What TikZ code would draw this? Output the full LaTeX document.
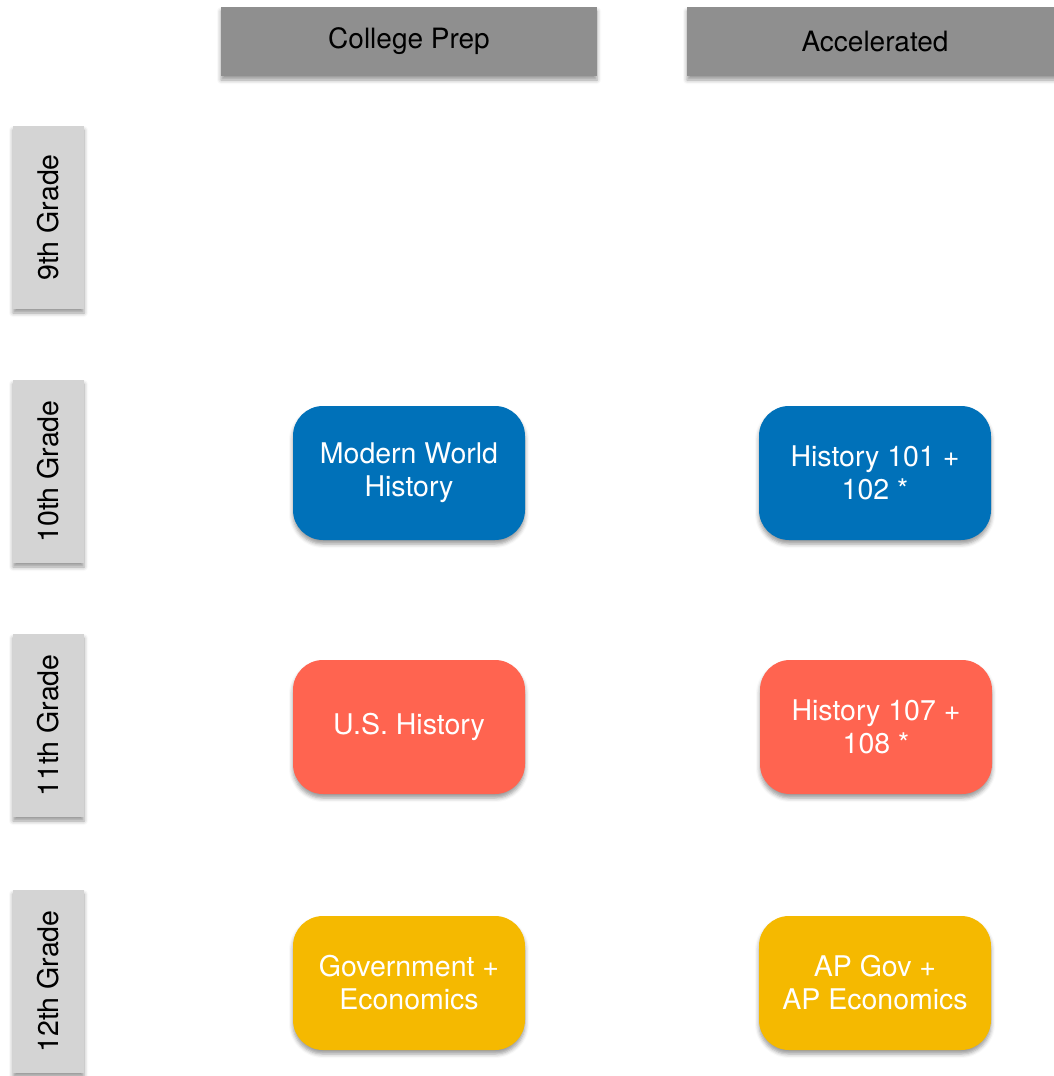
\documentclass[tikz,border=0pt]{standalone}
\usepackage{fontspec}
\setmainfont{TeX Gyre Heros}
\usetikzlibrary{shadows.blur}
\definecolor{hdrgray}{RGB}{143,143,143}
\definecolor{lblgray}{RGB}{212,212,212}
\definecolor{cblue}{RGB}{0,113,185}
\definecolor{cred}{RGB}{255,100,80}
\definecolor{cyellow}{RGB}{245,185,0}
\tikzset{
  shade/.style={blur shadow={shadow xshift=0pt, shadow yshift=-4pt, shadow blur radius=4pt, shadow opacity=40}},
  header/.style={shade, fill=hdrgray, minimum width=376pt, minimum height=69pt, inner sep=0pt, font=\fontsize{28}{33}\selectfont, text=black},
  grade/.style={shade, fill=lblgray, minimum width=183pt, minimum height=71pt, inner sep=0pt, rotate=90, font=\fontsize{28.5}{33}\selectfont, text=black},
  course/.style={shade, rounded corners=30pt, minimum width=232pt, minimum height=134pt, inner sep=0pt, align=center, text=white, font=\fontsize{28.5}{33}\selectfont},
}
\begin{document}
\begin{tikzpicture}[x=1pt,y=-1pt]
\useasboundingbox (0,0) rectangle (1054,1076);
\clip (0,0) rectangle (1054,1076);
\node[header] (cp) at (409,41.5) {College Prep};
\node[header] (acc) at (875,41.5) {Accelerated};
\node[grade] (g9) at (48.5,217.5) {9th Grade};
\node[grade] (g10) at (48.5,471.5) {10th Grade};
\node[grade] (g11) at (48.5,725.5) {11th Grade};
\node[grade] (g12) at (48.5,981.5) {12th Grade};
\node[course, fill=cblue] (mwh) at (409,473) {Modern World\\History};
\node[course, fill=cblue] (h101) at (875,473) {History 101 +\\102 *};
\node[course, fill=cred] (ush) at (409,727) {U.S. History};
\node[course, fill=cred] (h107) at (876,727) {History 107 +\\108 *};
\node[course, fill=cyellow] (gov) at (409,983) {Government +\\Economics};
\node[course, fill=cyellow] (apgov) at (875,983) {AP Gov +\\AP Economics};
\end{tikzpicture}
\end{document}
